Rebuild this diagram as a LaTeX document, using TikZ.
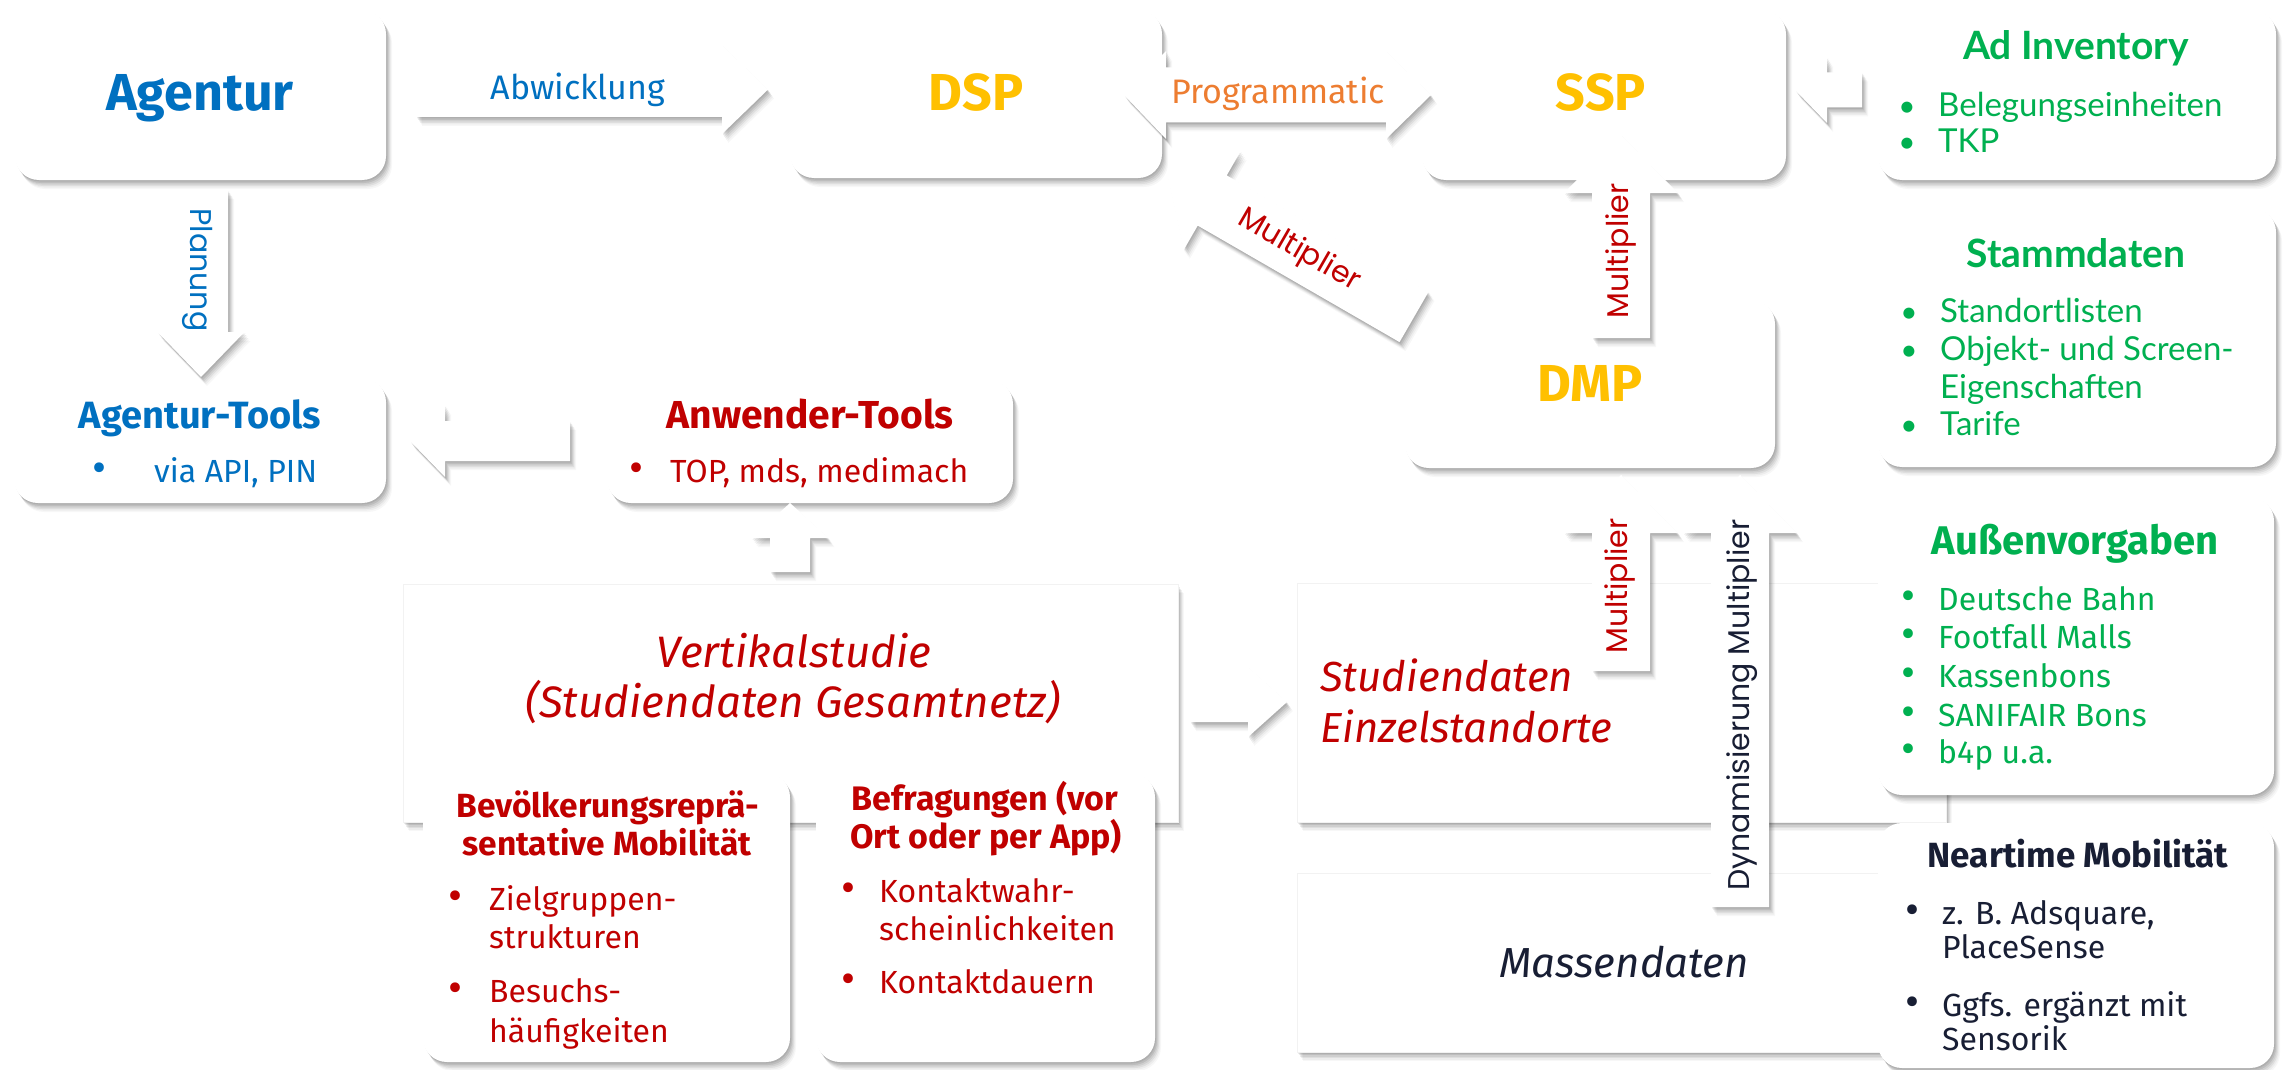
\documentclass[tikz,border=0pt]{standalone}
\usepackage{fontspec}
\setmainfont{Fira Sans}
\newfontfamily\geo{Poppins}
\newfontfamily\lat{Lato}
\usetikzlibrary{shadows}
\definecolor{cblue}{RGB}{0,112,192}
\definecolor{cgold}{RGB}{255,192,0}
\definecolor{corange}{RGB}{237,125,49}
\definecolor{cred}{RGB}{192,0,0}
\definecolor{cgreen}{RGB}{0,176,80}
\definecolor{cnavy}{RGB}{24,30,52}
\newcommand\fs[1]{\fontsize{#1}{#1}\selectfont}
\newcommand\bulsc{1.35}
\newcommand\bitem[5]{%
  \node[tx] (#1b) at (#2,#4) {\scalebox{\bulsc}{•}};
  \node[tx, anchor=base west] (#1) at (#3,#4) {#5};}
\newcommand\citem[4]{%
  \node[tx, anchor=base west] (#1) at (#2,#3) {#4};}
\tikzset{
  shd/.style={
    drop shadow={shadow xshift=1pt,shadow yshift=-1.5pt,fill=black,opacity=0.08},
    drop shadow={shadow xshift=2pt,shadow yshift=-3pt,fill=black,opacity=0.08},
    drop shadow={shadow xshift=3pt,shadow yshift=-4.5pt,fill=black,opacity=0.07},
    drop shadow={shadow xshift=4pt,shadow yshift=-6pt,fill=black,opacity=0.06},
    drop shadow={shadow xshift=5pt,shadow yshift=-7.5pt,fill=black,opacity=0.04},
    drop shadow={shadow xshift=6pt,shadow yshift=-9pt,fill=black,opacity=0.03}},
  rbox/.style={shd, fill=white, rounded corners=24pt, inner sep=0pt},
  sbox/.style={shd, fill=white, draw=black!5, line width=1pt, inner sep=0pt},
  barrow/.style={shd, fill=white},
  tx/.style={inner sep=0pt, anchor=base},
  rlab/.style={inner sep=0pt, font=\geo\fs{30}},
}
\begin{document}
\begin{tikzpicture}[x=1pt,y=-1pt]
\fill[white] (0,0) rectangle (2293,1070);
\useasboundingbox (0,0) rectangle (2293,1070);

% ---------- boxes ----------
\node[rbox, minimum width=371pt, minimum height=170pt] (agentur) at (200.5,95) {};
\node[rbox, minimum width=372pt, minimum height=168pt] (dsp) at (976,94) {};
\node[rbox, minimum width=364pt, minimum height=170pt] (ssp) at (1604,95) {};
\node[rbox, minimum width=398pt, minimum height=170pt] (adinv) at (2077,95) {};
\node[rbox, minimum width=398pt, minimum height=259pt] (stamm) at (2077,337.5) {};
\node[rbox, minimum width=370pt, minimum height=168pt] (dmp) at (1590,384) {};
\node[rbox, minimum width=372pt, minimum height=125pt] (agtools) at (200,440.5) {};
\node[rbox, minimum width=406pt, minimum height=123pt] (anwtools) at (810,441.5) {};
\node[sbox, minimum width=775pt, minimum height=238pt] (vert) at (790.5,703) {};
\node[rbox, minimum width=367pt, minimum height=289pt] (bev) at (606.5,917.5) {};
\node[rbox, minimum width=339pt, minimum height=289pt] (bef) at (985.5,917.5) {};
\node[sbox, minimum width=649pt, minimum height=239pt] (studien) at (1621.5,702.5) {};
\node[sbox, minimum width=649pt, minimum height=179pt] (massen) at (1621.5,962.5) {};

% ---------- block arrows ----------
% Agentur -> DSP
\path[barrow] (416,62) -- (722,62) -- (722,45) -- (768,89.5) -- (722,134) -- (722,117) -- (416,117) -- cycle;
% DSP <-> SSP
\path[barrow] (1124,95) -- (1166,51) -- (1166,67.5) -- (1386,67.5) -- (1386,51) -- (1431,95) -- (1386,139) -- (1386,122.5) -- (1166,122.5) -- (1166,139) -- cycle;
% Ad Inventory -> SSP
\path[barrow] (1795,90) -- (1827,57) -- (1827,72.5) -- (1862,72.5) -- (1862,107.5) -- (1827,107.5) -- (1827,123) -- cycle;
% Agentur -> Agentur-Tools
\path[barrow] (174,190) -- (228,190) -- (228,332) -- (244.5,332) -- (201,377) -- (157.5,332) -- (174,332) -- cycle;
% Anwender-Tools -> Agentur-Tools
\path[barrow] (410,441) -- (445,405) -- (445,421) -- (570,421) -- (570,461) -- (445,461) -- (445,477) -- cycle;
% Vertikalstudie -> Anwender-Tools
\path[barrow] (790,503) -- (828.5,538) -- (810,538) -- (810,572) -- (770,572) -- (770,538) -- (751.5,538) -- cycle;
% Vertikalstudie -> Studiendaten
\path[barrow] (1190,682) -- (1248,682) -- (1248,667) -- (1287,702) -- (1248,737) -- (1248,722) -- (1190,722) -- cycle;
% DMP -> DSP (diagonal)
\path[barrow] (1167.2,174.5) -- (1240.7,151.1) -- (1226.7,175.4) -- (1428.5,291.9) -- (1399.5,342.1) -- (1197.7,225.6) -- (1183.7,249.9) -- cycle;
% DMP -> SSP
\path[barrow] (1621,135) -- (1678,193) -- (1650,193) -- (1650,338) -- (1592,338) -- (1592,193) -- (1564,193) -- cycle;
% Studiendaten -> DMP
\path[barrow] (1621,475) -- (1678,533) -- (1650,533) -- (1650,671) -- (1592,671) -- (1592,533) -- (1564,533) -- cycle;
% Massendaten -> DMP
\path[barrow] (1740,475) -- (1797,533) -- (1769,533) -- (1769,907) -- (1711,907) -- (1711,533) -- (1683,533) -- cycle;

% right column boxes (on top)
\node[rbox, minimum width=396pt, minimum height=298pt] (aussen) at (2076,646) {};
\node[rbox, minimum width=396pt, minimum height=245pt] (near) at (2076,945.5) {};

% ---------- arrow labels ----------
\node[tx, text=cblue, font=\fs{34}] (abwT) at (578,100) {Abwicklung};
\node[tx, text=corange, font=\fs{34}] (progT) at (1278,104) {Programmatic};
\node[rlab, text=cblue, rotate=-90] (planT) at (198,270) {Planung};
\node[rlab, text=cred, rotate=-30] (diagT) at (1299,251) {Multiplier};
\node[rlab, text=cred, rotate=90] (mulupT) at (1621,251) {Multiplier};
\node[rlab, text=cred, rotate=90] (mullowT) at (1620,586) {Multiplier};
\node[rlab, text=cnavy, rotate=90] (dynT) at (1742,705) {Dynamisierung Multiplier};

% ---------- box texts ----------
\node[tx, text=cblue, font=\bfseries\fs{52}] (agenturT) at (200,111) {Agentur};
\node[tx, text=cgold, font=\bfseries\fs{52}] (dspT) at (976,111) {DSP};
\node[tx, text=cgold, font=\bfseries\fs{52}] (sspT) at (1601,111) {SSP};
\node[tx, text=cgold, font=\bfseries\fs{52}] (dmpT) at (1590,401) {DMP};

\begin{scope}[font=\lat\fs{33}, text=cgreen]
  \renewcommand\bulsc{0.9}
  \node[tx, font=\lat\bfseries\fs{39}] (adinvT) at (2076,60) {Ad Inventory};
  \bitem{ad1}{1907}{1938}{117}{Belegungseinheiten}
  \bitem{ad2}{1907}{1938}{153}{TKP}
  \node[tx, font=\lat\bfseries\fs{39}] (stammT) at (2076,267) {Stammdaten};
  \bitem{st1}{1909}{1940}{322}{Standortlisten}
  \bitem{st2}{1909}{1940}{360}{Objekt- und Screen-}
  \citem{st3}{1940}{398}{Eigenschaften}
  \bitem{st4}{1909}{1940}{435}{Tarife}
\end{scope}

\begin{scope}[font=\fs{32}, text=cblue]
  \node[tx, font=\bfseries\fs{38}] (agtoolsT) at (200,428) {Agentur-Tools};
  \bitem{ag1}{99}{154}{482}{via API, PIN}
\end{scope}
\begin{scope}[font=\fs{32}, text=cred]
  \node[tx, font=\bfseries\fs{39}] (anwT) at (810,428) {Anwender-Tools};
  \bitem{an1}{636}{670}{482}{TOP, mds, medimach}
  \node[tx, font=\itshape\fs{44}] (vertT1) at (794,667) {Vertikalstudie};
  \node[tx, font=\itshape\fs{44}] (vertT2) at (793,717) {(Studiendaten Gesamtnetz)};
  \node[tx, font=\bfseries\fs{33.5}] (bevT1) at (608,817) {Bevölkerungsreprä-};
  \node[tx, font=\bfseries\fs{33.5}] (bevT2) at (607,855) {sentative Mobilität};
  \bitem{bv1}{455}{489}{910}{Zielgruppen-}
  \citem{bv2}{489}{948}{strukturen}
  \bitem{bv3}{455}{489}{1002}{Besuchs-}
  \citem{bv4}{489}{1042}{häufigkeiten}
  \node[tx, font=\bfseries\fs{34}] (befT1) at (985,810) {Befragungen (vor};
  \node[tx, font=\bfseries\fs{34}] (befT2) at (986,848) {Ort oder per App)};
  \bitem{bf1}{848}{879}{902}{Kontaktwahr-}
  \citem{bf2}{879}{940}{scheinlichkeiten}
  \bitem{bf3}{848}{879}{993}{Kontaktdauern}
  \node[tx, anchor=base west, font=\itshape\fs{42}] (studT1) at (1320,691) {Studiendaten};
  \node[tx, anchor=base west, font=\itshape\fs{42}] (studT2) at (1320,742) {Einzelstandorte};
\end{scope}
\node[tx, text=cnavy, font=\itshape\fs{42}] (massT) at (1624,977) {Massendaten};

\begin{scope}[font=\fs{32}, text=cgreen]
  \node[tx, font=\bfseries\fs{40}] (aussT) at (2075,554) {Außenvorgaben};
  \bitem{au1}{1908}{1938}{610}{Deutsche Bahn}
  \bitem{au2}{1908}{1938}{648}{Footfall Malls}
  \bitem{au3}{1908}{1938}{687}{Kassenbons}
  \bitem{au4}{1908}{1938}{726}{SANIFAIR Bons}
  \bitem{au5}{1908}{1938}{763}{b4p u.a.}
\end{scope}
\begin{scope}[font=\fs{32}, text=cnavy]
  \node[tx, font=\bfseries\fs{35}] (nearT) at (2078,867) {Neartime Mobilität};
  \bitem{ne1}{1912}{1942}{924}{z. B. Adsquare,}
  \citem{ne2}{1942}{958}{PlaceSense}
  \bitem{ne3}{1912}{1942}{1016}{Ggfs. ergänzt mit}
  \citem{ne4}{1942}{1050}{Sensorik}
\end{scope}
\end{tikzpicture}
\end{document}
